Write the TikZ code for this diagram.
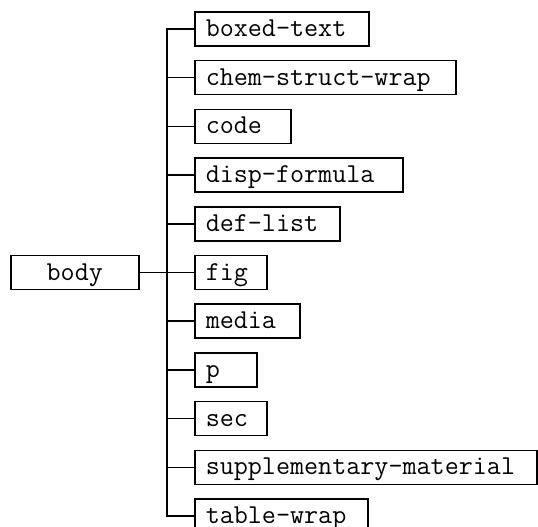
\documentclass[tikz,border=0pt]{standalone}
\usetikzlibrary{calc}
\tikzset{
  elem/.style={draw, line width=1.5pt, anchor=west, inner xsep=11pt, inner ysep=0pt,
    minimum height=34pt, text height=20pt, text depth=5pt, align=left,
    font=\fontsize{27.3}{30}\selectfont\ttfamily},
  leaf/.style={elem, text width=#1-22pt},
}
\begin{document}
\begin{tikzpicture}[x=1pt,y=1pt,line width=1.5pt]
      \useasboundingbox (0,0) rectangle (538,-527);
      \draw
        (10,-272.5) node[elem, text width=106pt, align=center] (body){body}
        (194,-29.0) node[leaf=174pt] (boxed){boxed-text}
        (194,-77.7) node[leaf=261pt] (chem){chem-struct-wrap}
        (194,-126.4) node[leaf=96pt] (code){code}
        (194,-175.1) node[leaf=208pt] (disp){disp-formula}
        (194,-223.8) node[leaf=145pt] (deflist){def-list}
        (194,-272.5) node[leaf=72pt] (fig){fig}
        (194,-321.2) node[leaf=105pt] (media){media}
        (194,-369.9) node[leaf=62pt] (p){p}
        (194,-418.6) node[leaf=72pt] (sec){sec}
        (194,-467.3) node[leaf=342pt] (supp){supplementary-material}
        (194,-516.0) node[leaf=173pt] (table){table-wrap};
      \coordinate (trunk) at (167,-272.5);
      \begin{scope}[-]
        \draw (body) to (fig);
        \draw (boxed.west) -| (trunk) |- (table.west);
        \draw (trunk |- chem.west) to (chem.west);
        \draw (trunk |- code.west) to (code.west);
        \draw (trunk |- disp.west) to (disp.west);
        \draw (trunk |- deflist.west) to (deflist.west);
        \draw (trunk |- media.west) to (media.west);
        \draw (trunk |- p.west) to (p.west);
        \draw (trunk |- sec.west) to (sec.west);
        \draw (trunk |- supp.west) to (supp.west);
      \end{scope}
    \end{tikzpicture}
\end{document}
